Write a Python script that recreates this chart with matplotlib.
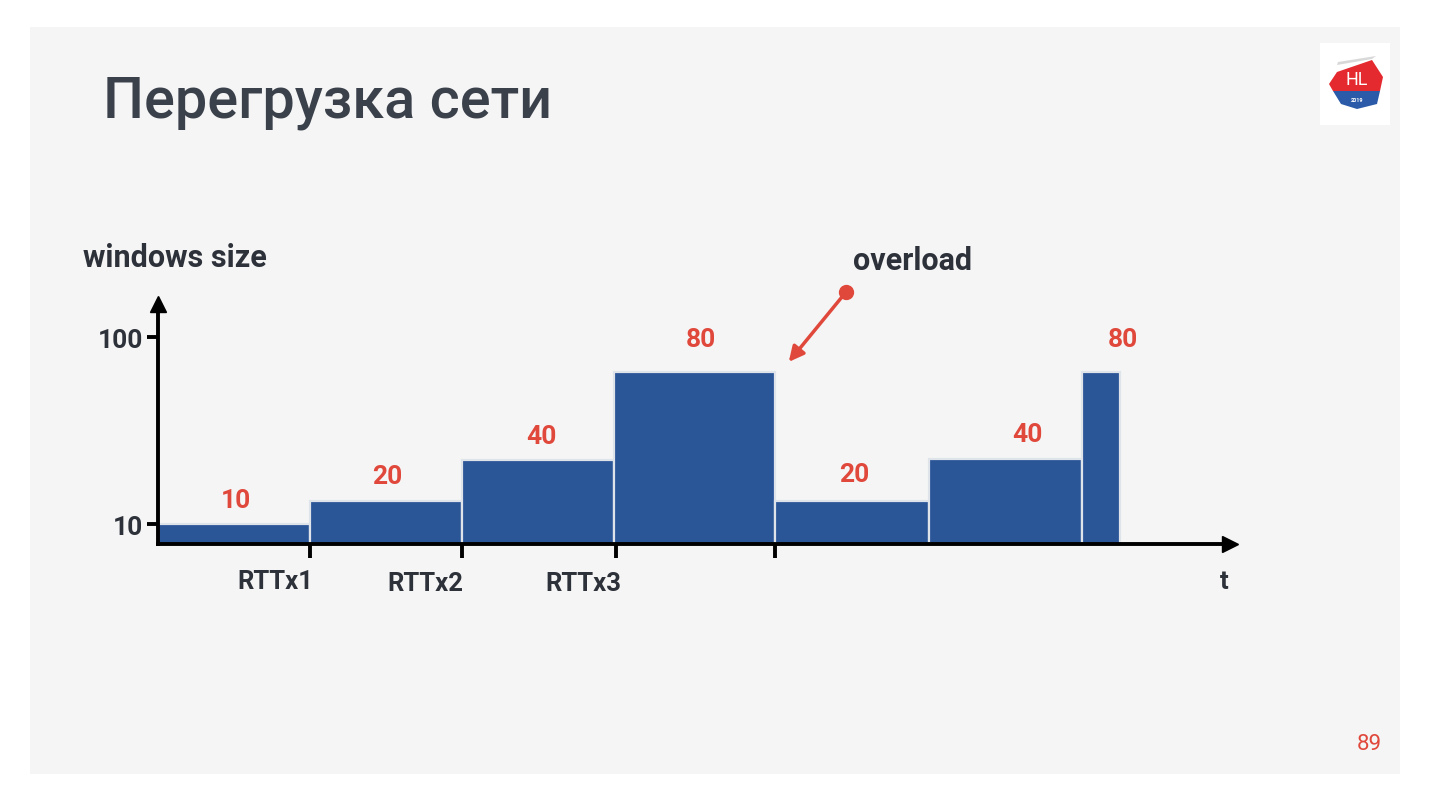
import matplotlib
matplotlib.use("Agg")
import matplotlib.pyplot as plt
from matplotlib.patches import Rectangle, Polygon

# ---- data ----
window_values = [10, 20, 40, 80, 20, 40, 80]          # window size labels per interval
bar_edges = [0, 1, 2, 3, 4.06, 5.07, 6.08, 6.33]      # time in RTT units
bar_heights = [10, 21, 41, 83, 21, 41.5, 83]            # drawn height (y units)
y_ticks = [10, 100]
y_tick_labels = ["10", "100"]
x_ticks = [1, 2, 3.01, 4.06]
x_tick_labels = ["RTTx1", "RTTx2", "RTTx3", ""]

title = "Перегрузка сети"
y_label = "windows size"
x_label = "t"
note = "overload"
page = "89"

TXT = "#2d3139"
RED = "#e0483b"
BLUE = "#2a5597"
BG = "#f5f5f5"
FONT = ["Roboto", "DejaVu Sans"]

fig = plt.figure(figsize=(14.3, 8.04), dpi=100)
fig.patch.set_facecolor("white")
# slide panel
fig.patches.append(Rectangle((30 / 1430, 1 - 775 / 804), 1370 / 1430, 747 / 804,
                             transform=fig.transFigure, facecolor=BG, edgecolor="none", zorder=-5))

ax = fig.add_axes([158 / 1430, 1 - 545 / 804, 7.2 * 152 / 1430, (545 - 296.5) / 804])
ax.set_zorder(2)
ax.set_facecolor("none")
ax.set_xlim(0, 7.2)
ax.set_ylim(0.4, 120)

for i, h in enumerate(bar_heights):
    x0, x1 = bar_edges[i], bar_edges[i + 1]
    ax.bar(x0, h - 0.4, width=x1 - x0, bottom=0.4, align="edge", color=BLUE,
           edgecolor="#dfe4ea", linewidth=1.6, zorder=2)

for s in ["top", "right"]:
    ax.spines[s].set_visible(False)
for s in ["left", "bottom"]:
    ax.spines[s].set_linewidth(2.8)
    ax.spines[s].set_color("black")
    ax.spines[s].set_zorder(3)
ax.spines["left"].set_bounds(0.4, 115)
ax.spines["bottom"].set_bounds(0, 7.05)
# arrow heads
ax.plot(0, 116, marker="^", color="black", markersize=11, clip_on=False, zorder=4)
ax.plot(7.05, 0.4, marker=">", color="black", markersize=11, clip_on=False, zorder=4)

ax.set_yticks(y_ticks)
ax.set_yticklabels(y_tick_labels, fontsize=19, fontweight="bold", family=FONT)
ax.tick_params(axis="y", direction="out", length=8, width=2.8, pad=3, colors="black")
for lbl in ax.get_yticklabels():
    lbl.set_color(TXT)
ax.set_xticks(x_ticks)
ax.set_xticklabels([])
ax.tick_params(axis="x", direction="out", length=10, width=2.8)

# x tick labels (offset to the left of the ticks)
lab_x = [0.77, 1.76, 2.80]
lab_y = [-17.5, -18.5, -18.5]
for xx, yy, t in zip(lab_x, lab_y, x_tick_labels[:3]):
    ax.text(xx, yy, t, ha="center", va="center", fontsize=18.5, color=TXT,
            family=FONT, fontweight="bold", clip_on=False)
ax.text((1224 - 158) / 152, -17.5, x_label, ha="center", va="center", fontsize=18.5,
        color=TXT, family=FONT, fontweight="bold", clip_on=False)

# value labels
val_x = [0.51, 1.51, 2.52, 3.57, 4.58, 5.72, 6.35]
val_y = [21.5, 33, 52.5, 99, 34, 53.5, 99]
for xx, yy, v in zip(val_x, val_y, window_values):
    ax.text(xx, yy, str(v), ha="center", va="center", fontsize=19, color=RED,
            family=FONT, fontweight="bold", clip_on=False)

# overload arrow
ax.annotate("", xy=((787 - 158) / 152, 0.4 + (545 - 365) / 2.078),
            xytext=((846 - 158) / 152, 0.4 + (545 - 293) / 2.078),
            arrowprops=dict(arrowstyle="-|>,head_length=0.9,head_width=0.45", color=RED, lw=2.5),
            annotation_clip=False)
ax.plot((846 - 158) / 152, 0.4 + (545 - 293) / 2.078, "o", color=RED, markersize=10, clip_on=False)

# texts in figure pixels
def ftext(x, y, s, **kw):
    fig.text(x / 1430, 1 - y / 804, s, **kw)

ftext(103, 103, title, fontsize=41.5, color="#3b414b", fontweight="medium",
      family=FONT, va="center", ha="left")
ftext(83, 258, y_label, fontsize=22, color=TXT, family=FONT, fontweight="bold",
      va="center", ha="left")
ftext(853, 261, note, fontsize=22, color=TXT, family=FONT, fontweight="bold",
      va="center", ha="left")
ftext(1382, 745, page, fontsize=16, color=RED, family=FONT, va="center", ha="right")

# logo
fig.patches.append(Rectangle((1320 / 1430, 1 - 126 / 804), 70 / 1430, 82 / 804,
                             transform=fig.transFigure, facecolor="white", edgecolor="none", zorder=1))
def fpoly(pts, color):
    fig.patches.append(Polygon([(x / 1430, 1 - y / 804) for x, y in pts], closed=True,
                               transform=fig.transFigure, facecolor=color, edgecolor="none", zorder=2))
fpoly([(1337, 66), (1372, 60), (1376, 57), (1338, 63)], "#d8d8d8")
fpoly([(1337, 73), (1372, 61), (1383, 78), (1380, 92), (1333, 92), (1329, 85)], "#e52a2f")
fpoly([(1333, 92), (1380, 92), (1377, 105), (1357, 110), (1341, 105)], "#2a5aa8")
ftext(1357, 80, "HL", fontsize=13, color="white", family=FONT, va="center", ha="center", zorder=3)
ftext(1357, 100, "2019", fontsize=4, color="white", family=FONT, fontweight="bold",
      va="center", ha="center", zorder=3)

fig.savefig("out.png", dpi=100, facecolor=fig.get_facecolor())
